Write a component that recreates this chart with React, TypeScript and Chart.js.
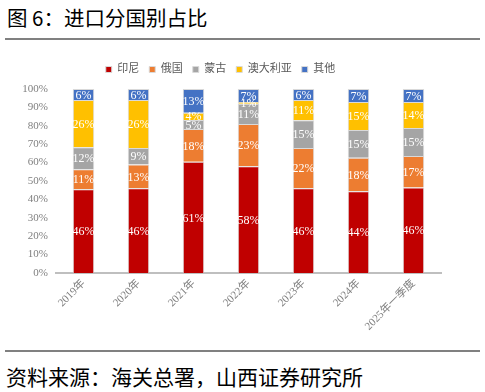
import React, { useEffect, useRef } from "react";
import { Chart, registerables } from "chart.js";

Chart.register(...registerables);

const categories = ["2019年", "2020年", "2021年", "2022年", "2023年", "2024年", "2025年一季度"];
const seriesNames = ["印尼", "俄国", "蒙古", "澳大利亚", "其他"];
const indonesia = [46, 46, 61, 58, 46, 44, 46];
const russia = [11, 13, 18, 23, 22, 18, 17];
const mongolia = [12, 9, 5, 11, 15, 15, 15];
const australia = [26, 26, 4, 1, 11, 15, 14];
const others = [6, 6, 13, 7, 6, 7, 7];
const colors = ["#C00000", "#ED7D31", "#A5A5A5", "#FFC000", "#4472C4"];
const yMax = 100;
const yStep = 10;

const SERIF = '"Liberation Serif", "Noto Sans CJK SC", serif';
const CJK = '"Noto Sans CJK SC", "Liberation Serif", sans-serif';

const rawSeries = [indonesia, russia, mongolia, australia, others];
const totals = categories.map((_, i) => rawSeries.reduce((s, arr) => s + arr[i], 0));

const labelPlugin = {
  id: "segLabels",
  afterDatasetsDraw(chart: any) {
    const ctx = chart.ctx;
    ctx.save();
    ctx.font = `12px ${SERIF}`;
    ctx.fillStyle = "#FFFFFF";
    ctx.textAlign = "center";
    ctx.textBaseline = "middle";
    chart.data.datasets.forEach((ds: any, di: number) => {
      const meta = chart.getDatasetMeta(di);
      meta.data.forEach((el: any, i: number) => {
        const p = el.getProps(["x", "y", "base"], true);
        const cy = (p.y + p.base) / 2;
        ctx.fillText(rawSeries[di][i] + "%", p.x, cy + 1);
      });
    });
    ctx.restore();
  },
};

const legendHeightPlugin = {
  id: "legendHeight",
  beforeInit(chart: any) {
    const origFit = chart.legend.fit;
    chart.legend.fit = function () {
      origFit.call(this);
      this.height = 35;
    };
  },
};

export default function App() {
  const ref = useRef<HTMLCanvasElement | null>(null);

  useEffect(() => {
    document.body.style.margin = "0";
    if (!ref.current) return;
    const chart = new Chart(ref.current, {
      type: "bar",
      data: {
        labels: categories,
        datasets: rawSeries.map((arr, di) => ({
          label: seriesNames[di],
          data: arr.map((v, i) => (v / totals[i]) * 100),
          backgroundColor: colors[di],
          borderColor: "#D9D9D9",
          borderWidth: 1,
          categoryPercentage: 1,
          barPercentage: 0.39,
        })),
      },
      options: {
        animation: false,
        responsive: false,
        maintainAspectRatio: false,
        layout: { padding: { top: 9, right: 44, left: 0, bottom: 0 } },
        plugins: {
          legend: {
            position: "top",
            labels: {
              boxWidth: 6,
              boxHeight: 6,
              padding: 10,
              color: "#595959",
              font: { size: 11, family: SERIF },
            },
          },
          tooltip: { enabled: false },
        },
        scales: {
          x: {
            stacked: true,
            grid: { display: false, drawTicks: false },
            border: { display: true, color: "#BFBFBF", width: 2 },
            ticks: {
              maxRotation: 45,
              minRotation: 45,
              color: "#7F7F7F",
              font: { size: 11, family: SERIF },
              padding: 4,
            },
            afterFit(scale: any) {
              scale.height = 72;
            },
          },
          y: {
            stacked: true,
            min: 0,
            max: yMax,
            grid: { display: false, drawTicks: false },
            border: { display: false },
            ticks: {
              stepSize: yStep,
              color: "#7F7F7F",
              padding: 8,
              font: { size: 11, family: SERIF },
              callback: (v: any) => v + "%",
            },
            afterFit(scale: any) {
              scale.width = 56;
            },
          },
        },
      },
      plugins: [labelPlugin, legendHeightPlugin],
    });
    return () => chart.destroy();
  }, []);

  return (
    <div style={{ position: "absolute", left: 0, top: 0, width: 485, height: 392, background: "#fff", overflow: "hidden" }}>
      <div style={{ position: "absolute", left: 7, top: 4, fontFamily: CJK, fontSize: 20.5, color: "#000", lineHeight: "26px", whiteSpace: "nowrap" }}>
        图 6：进口分国别占比
      </div>
      <div style={{ position: "absolute", left: 5, top: 38, width: 475, height: 2, background: "#808080" }} />
      <div style={{ position: "absolute", left: 0, top: 45, width: 485, height: 300 }}>
        <canvas ref={ref} width={485} height={300} style={{ width: 485, height: 300, display: "block" }} />
      </div>
      <div style={{ position: "absolute", left: 5, top: 350, width: 475, height: 2, background: "#808080" }} />
      <div style={{ position: "absolute", left: 6, top: 363, fontFamily: CJK, fontSize: 21, color: "#000", lineHeight: "26px", whiteSpace: "nowrap" }}>
        资料来源：海关总署，山西证券研究所
      </div>
    </div>
  );
}
